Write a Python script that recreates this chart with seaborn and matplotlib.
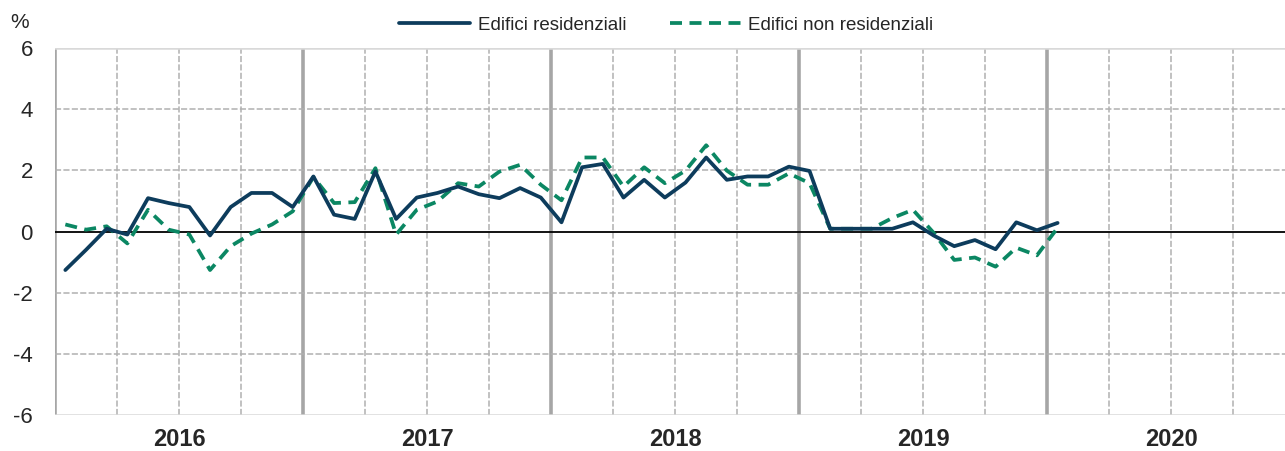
import numpy as np
import pandas as pd
import matplotlib
matplotlib.use("Agg")
import matplotlib.pyplot as plt
import seaborn as sns

# variazioni mensili (%), gennaio 2016 - gennaio 2020
anni = ["2016", "2017", "2018", "2019", "2020"]
residenziali = [-1.26, -0.60, 0.09, -0.10, 1.09, 0.93, 0.80, -0.13, 0.80, 1.26, 1.26, 0.80,
                1.80, 0.55, 0.41, 1.96, 0.41, 1.11, 1.26, 1.47, 1.22, 1.09, 1.42, 1.11,
                0.30, 2.10, 2.21, 1.11, 1.69, 1.11, 1.60, 2.42, 1.69, 1.80, 1.80, 2.12,
                1.98, 0.09, 0.09, 0.09, 0.09, 0.30, -0.13, -0.48, -0.28, -0.58, 0.30, 0.04,
                0.28]
non_residenziali = [0.23, 0.06, 0.17, -0.39, 0.71, 0.06, -0.10, -1.26, -0.48, -0.07, 0.23, 0.66,
                    1.78, 0.93, 0.96, 2.07, -0.10, 0.71, 0.98, 1.58, 1.47, 1.96, 2.18, 1.53,
                    1.02, 2.42, 2.42, 1.47, 2.10, 1.58, 1.99, 2.82, 1.99, 1.53, 1.53, 1.90,
                    1.58, 0.09, 0.09, 0.09, 0.44, 0.71, -0.04, -0.93, -0.85, -1.15, -0.53, -0.78,
                    0.12]

df = pd.DataFrame({
    "mese": np.arange(len(residenziali)) + 0.5,  # centro del mese
    "Edifici residenziali": residenziali,
    "Edifici non residenziali": non_residenziali,
})

sns.set_style("white")
plt.rcParams["font.family"] = ["Liberation Sans", "DejaVu Sans"]

fig = plt.figure(figsize=(12.85, 4.51), dpi=100)
ax = fig.add_axes([55 / 1285, 36 / 451, 1230 / 1285, 367 / 451])

# griglia: trimestri tratteggiati, anni pieni
for q in range(0, 60, 3):
    if q % 12 == 0:
        ax.axvline(q, color="#a6a6a6", lw=2.6, zorder=1)
    else:
        ax.axvline(q, color="#b0b0b0", lw=1.1, ls=(0, (4, 1.5)), zorder=1)
for yv in [-4, -2, 2, 4]:
    ax.axhline(yv, color="#b0b0b0", lw=1.1, ls=(0, (4, 1.5)), zorder=1)
ax.axhline(6, color="#d9d9d9", lw=1.8, zorder=1)
ax.axhline(-6, color="#d9d9d9", lw=1.8, zorder=1)
ax.axhline(0, color="black", lw=1.3, zorder=2)

sns.lineplot(data=df, x="mese", y="Edifici residenziali", ax=ax, color="#0d3c5c",
             lw=2.7, label="Edifici residenziali", zorder=4)
sns.lineplot(data=df, x="mese", y="Edifici non residenziali", ax=ax, color="#0b8763",
             lw=2.7, ls=(0, (3.2, 2)), label="Edifici non residenziali", zorder=3)

ax.set_xlim(0, 59.5)
ax.set_ylim(-6, 6)
ax.set_yticks(range(-6, 7, 2))
ax.set_yticklabels([str(v) for v in range(-6, 7, 2)], fontsize=16)
ax.set_xticks([])
ax.set_xticks([6 + 12 * i for i in range(len(anni))], minor=True)
ax.set_xticklabels(anni, minor=True, fontsize=17, fontweight="bold")
ax.tick_params(axis="y", length=0, pad=16)
ax.tick_params(axis="x", which="both", length=0, pad=9)
ax.set_xlabel("")
ax.set_ylabel("")
for s in ax.spines.values():
    s.set_visible(False)

ax.legend(loc="center", bbox_to_anchor=(0.497, 1 + 23 / 367), ncol=2, frameon=False,
          fontsize=13.5, handlelength=3.8, columnspacing=2.3, handletextpad=0.4)

fig.text(20 / 1285, 1 - 22 / 451, "%", fontsize=15, ha="center", va="center")

fig.savefig("out.png", dpi=100)
